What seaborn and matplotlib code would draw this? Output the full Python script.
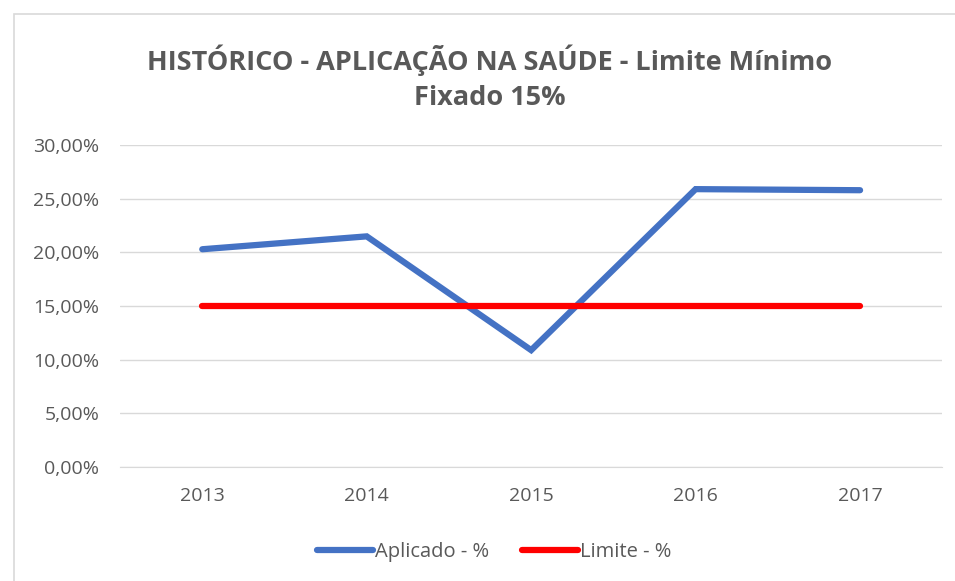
import numpy as np
import pandas as pd
import seaborn as sns
import matplotlib.pyplot as plt
from matplotlib.ticker import FuncFormatter
from matplotlib.patches import Rectangle

# Dados
anos = ["2013", "2014", "2015", "2016", "2017"]
aplicado = [20.3, 21.5, 10.9, 25.9, 25.8]
limite = [15.0, 15.0, 15.0, 15.0, 15.0]

df = pd.DataFrame({
    "Ano": anos * 2,
    "Valor": aplicado + limite,
    "Serie": ["Aplicado - %"] * len(anos) + ["Limite - %"] * len(anos),
})

sns.set_style("white")
plt.rcParams['font.family'] = ['Open Sans', 'DejaVu Sans']

fig = plt.figure(figsize=(9.55, 5.81), dpi=100)
ax = fig.add_axes([0.1257, 0.196, 0.861, 0.5542])

sns.lineplot(data=df, x="Ano", y="Valor", hue="Serie",
             palette={"Aplicado - %": "#4472C4", "Limite - %": "#FF0000"},
             linewidth=4.5, ax=ax, sort=False)
for ln in ax.lines:
    ln.set_solid_capstyle("round")
    ln.set_solid_joinstyle("miter")

ax.set_xlim(-0.5, len(anos) - 0.5)
ax.set_ylim(0, 30)
ax.set_yticks(np.arange(0, 31, 5))
ax.yaxis.set_major_formatter(FuncFormatter(lambda v, p: f"{v:.2f}%".replace(".", ",")))
ax.grid(axis="y", color="#d9d9d9", linewidth=1)
ax.set_axisbelow(True)
for s in ["top", "right", "left"]:
    ax.spines[s].set_visible(False)
ax.spines["bottom"].set_color("#d9d9d9")
ax.tick_params(axis="both", length=0, labelsize=14, labelcolor="#595959")
ax.tick_params(axis="y", pad=15)
ax.tick_params(axis="x", pad=14)
ax.set_xlabel("")
ax.set_ylabel("")

fig.text(0.513, 0.867, "HISTÓRICO - APLICAÇÃO NA SAÚDE - Limite Mínimo\nFixado 15%",
         ha="center", va="center", fontsize=19.5, fontweight="bold",
         color="#595959", linespacing=1.45)

leg = ax.legend(loc="center", bbox_to_anchor=(0.455, 1 - (552 - 145) / 322), ncol=2,
                frameon=False, fontsize=14.5, handlelength=2.8, handletextpad=0.1,
                columnspacing=1.6)
for t in leg.get_texts():
    t.set_color("#595959")

fig.patches.append(Rectangle((14 / 955, -0.1), 1.1, 1 - 14 / 581 + 0.1,
                             transform=fig.transFigure, fill=False,
                             edgecolor="#d9d9d9", linewidth=1.2))

fig.savefig("out.png", dpi=100)
